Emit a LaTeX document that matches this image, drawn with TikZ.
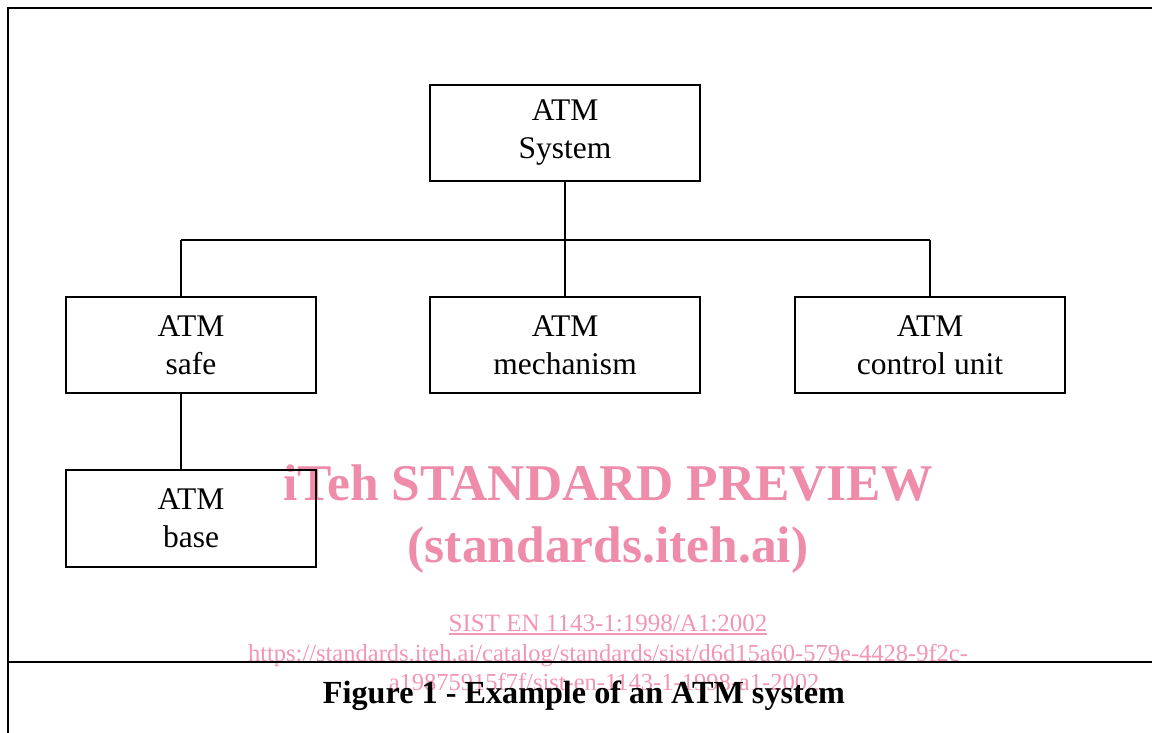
\documentclass[tikz,border=0pt]{standalone}
\usepackage{fontspec}
\setmainfont{Liberation Serif}
\usepackage{xcolor}
\definecolor{wmpink}{RGB}{238,140,170}
\definecolor{wmlink}{RGB}{242,150,180}
\begin{document}
\begin{tikzpicture}[x=1pt,y=-1pt,
  boxstyle/.style={draw=black,line width=1.6pt,rectangle,align=center,inner sep=0pt,
     font=\fontsize{31.5}{38}\selectfont},
  linkstyle/.style={line width=1.6pt},
  framestyle/.style={line width=2.2pt},
  wmbig/.style={text=wmpink,font=\fontsize{51.5}{60}\selectfont\bfseries,anchor=base,inner sep=0pt},
  wmsmall/.style={text=wmlink,font=\fontsize{25}{30}\selectfont,anchor=base,inner sep=0pt},
  wmurl/.style={text=wmlink,font=\fontsize{24.5}{30}\selectfont,anchor=base,inner sep=0pt}]
\useasboundingbox (0,0) rectangle (1152,733);
\fill[white] (0,0) rectangle (1152,733);
% watermark
\node[wmbig] (wm1) at (608,500) {iTeh STANDARD PREVIEW};
\node[wmbig] (wm2) at (608,562) {(standards.iteh.ai)};
\node[wmsmall] (wm3) at (608,631) {SIST EN 1143-1:1998/A1:2002};
\draw[wmlink,line width=1.2pt] (wm3.base west) ++(0,3) coordinate (ul1) -- (wm3.base east |- ul1);
\node[wmurl] (wm4) at (608,661) {https://standards.iteh.ai/catalog/standards/sist/d6d15a60-579e-4428-9f2c-};
\node[wmurl] (wm5) at (604,690) {a19875915f7f/sist-en-1143-1-1998-a1-2002};
% frame
\coordinate (fTL) at (8,8);
\coordinate (fTR) at (1152,8);
\coordinate (fBL) at (8,733);
\coordinate (fML) at (8,662);
\coordinate (fMR) at (1152,662);
\draw[framestyle] (fBL) -- (fTL) -- (fTR);
\draw[framestyle] (fML) -- (fMR);
% boxes
\node[boxstyle,minimum width=270pt,minimum height=96pt] (sys) at (565,133) {ATM\\System};
\node[boxstyle,minimum width=250pt,minimum height=96pt] (safe) at (191,345) {ATM\\safe};
\node[boxstyle,minimum width=270pt,minimum height=96pt] (mech) at (565,345) {ATM\\mechanism};
\node[boxstyle,minimum width=270pt,minimum height=96pt] (ctrl) at (930,345) {ATM\\control unit};
\node[boxstyle,minimum width=250pt,minimum height=97pt] (base) at (191,518.5) {ATM\\base};
% connectors
\coordinate (busL) at (181,240);
\coordinate (busR) at (930,240);
\draw[linkstyle] (sys.south) -- (sys.south |- busL);
\draw[linkstyle] (busL) -- (busR);
\draw[linkstyle] (busL) -- (busL |- safe.north);
\draw[linkstyle] (sys.south |- busL) -- (mech.north);
\draw[linkstyle] (busR) -- (busR |- ctrl.north);
\draw[linkstyle] (busL |- safe.south) -- (busL |- base.north);
% caption
\node[anchor=base,inner sep=0pt,font=\fontsize{32.2}{38}\selectfont\bfseries] (cap) at (584,703) {Figure 1 - Example of an ATM system};
\end{tikzpicture}
\end{document}
